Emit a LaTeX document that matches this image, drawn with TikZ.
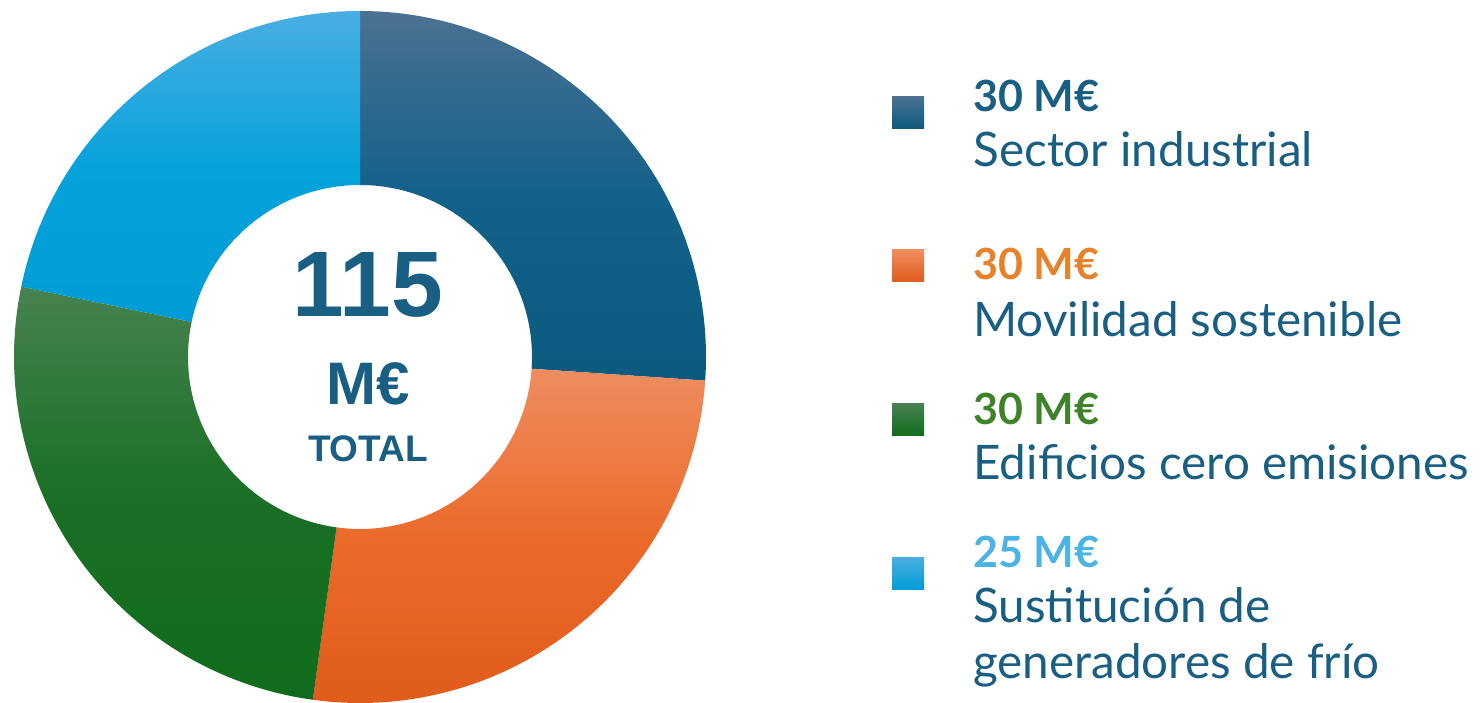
\documentclass[tikz,border=0pt]{standalone}
\usepackage{fontspec}
\setmainfont{Lato}
\newfontfamily\arialfont{Liberation Sans}
\definecolor{txtblue}{HTML}{195E83}
\definecolor{valorange}{HTML}{E8822A}
\definecolor{valgreen}{HTML}{3E8329}
\definecolor{vallight}{HTML}{4BB4E4}
\definecolor{segAtop}{HTML}{4B7191}
\definecolor{segAmid}{HTML}{12618A}
\definecolor{segAbot}{HTML}{0B5A7E}
\definecolor{segBtop}{HTML}{EF8D60}
\definecolor{segBmid}{HTML}{EB6A2A}
\definecolor{segBbot}{HTML}{E05B1A}
\definecolor{segCtop}{HTML}{478250}
\definecolor{segCmid}{HTML}{1A7025}
\definecolor{segCbot}{HTML}{106C1C}
\definecolor{segDtop}{HTML}{49AEE1}
\definecolor{segDmid}{HTML}{06A2DC}
\definecolor{segDbot}{HTML}{009CD6}
\tikzset{
  legbox/.style={minimum size=16pt, inner sep=0pt},
  legval/.style={anchor=base west, inner sep=0pt, font=\fontsize{21.5}{26}\selectfont\bfseries},
  legtxt/.style={anchor=base west, inner sep=0pt, text=txtblue, font=\fontsize{23.8}{28}\selectfont},
  midtxt/.style={anchor=base, inner sep=0pt, text=txtblue},
}

\begin{document}
\begin{tikzpicture}[x=0.5pt,y=0.5pt]
\useasboundingbox (0,0) rectangle (1484,702);
\coordinate (ctr) at (360,345);

% donut, 30/30/30/25 of 115
\foreach \s/\e/\c in {90/-3.913/segA, -3.913/-97.826/segB,
  -97.826/-191.739/segC, -191.739/-270/segD} {
  \shade[top color=\c top, bottom color=\c bot, middle color=\c mid] ([shift={(\s:346)}]ctr)
    arc[start angle=\s, end angle=\e, radius=346] -- ([shift={(\e:172)}]ctr)
    arc[start angle=\e, end angle=\s, radius=172] -- cycle;
}

\node[midtxt, font=\arialfont\fontsize{46.5}{50}\selectfont\bfseries] (total) at (368,385) {115};
\node[midtxt, font=\arialfont\fontsize{30}{34}\selectfont\bfseries] (unit) at (368,297) {M€};
\node[midtxt, font=\arialfont\fontsize{18.5}{22}\selectfont\bfseries] (lbl) at (368,240) {TOTAL};

% legend
\node[legbox, top color=segAtop, bottom color=segAbot] (box1) at (908,589) {};
\node[legval, text=txtblue] (val1) at (973,590) {30 M€};
\node[legtxt] (txt1) at (973,535) {Sector industrial};

\node[legbox, top color=segBtop, bottom color=segBbot] (box2) at (908,436) {};
\node[legval, text=valorange] (val2) at (973,422) {30 M€};
\node[legtxt] (txt2) at (973,365) {Movilidad sostenible};

\node[legbox, top color=segCtop, bottom color=segCbot] (box3) at (908,282) {};
\node[legval, text=valgreen] (val3) at (973,277) {30 M€};
\node[legtxt] (txt3) at (973,222) {Edificios cero emisiones};

\node[legbox, top color=segDtop, bottom color=segDbot] (box4) at (908,128) {};
\node[legval, text=vallight] (val4) at (973,134) {25 M€};
\node[legtxt] (txt4) at (973,79) {Sustitución de};
\node[legtxt] (txt4b) at (973,24) {generadores de frío};
\end{tikzpicture}
\end{document}
